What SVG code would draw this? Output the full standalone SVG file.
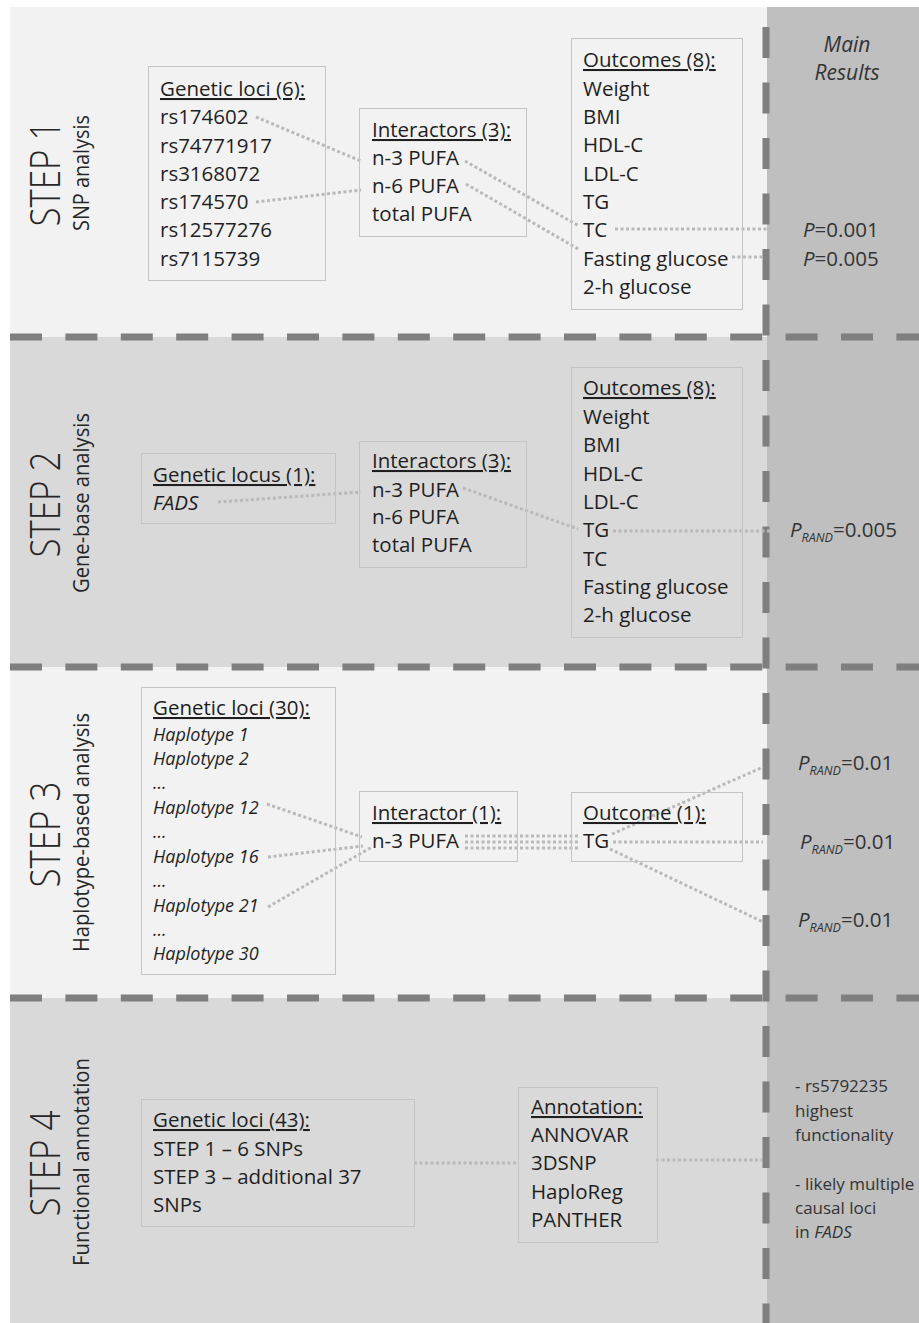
<svg xmlns="http://www.w3.org/2000/svg" width="919" height="1323" viewBox="0 0 919 1323">
<style>
.t{font-family:'Open Sans','Noto Sans','DejaVu Sans',sans-serif;font-size:20.5px;fill:#1f1f1f}
.h{text-decoration:underline}
.it{font-style:italic}
.box{fill:none;stroke:#c4c4c4;stroke-width:1}
.con{stroke:#b9b9b9;stroke-width:3;stroke-dasharray:3 2.5;fill:none}
.step{font-size:42px;font-weight:300;fill:#262626}
.sub{font-size:21px;fill:#262626}
.hap{font-size:18px;font-style:italic}
.res{font-size:17px;fill:#333}
.mr{font-size:21px;font-style:italic;fill:#333}
.pv{fill:#333}
.dash{stroke:#7f7f7f;stroke-width:7;fill:none}
</style>
<rect x="0" y="0" width="919" height="1323" fill="#ffffff"/>
<g id="panels">
<rect x="10" y="7" width="757" height="330" fill="#f2f2f2"/>
<rect x="10" y="337" width="757" height="330" fill="#d9d9d9"/>
<rect x="10" y="667" width="757" height="331" fill="#f2f2f2"/>
<rect x="10" y="998" width="757" height="325" fill="#d9d9d9"/>
<rect x="767" y="7" width="152" height="1316" fill="#bfbfbf"/>
</g>
<g id="dividers">
<line class="dash" x1="10" y1="337" x2="919" y2="337" stroke-dasharray="32 23.4"/>
<line class="dash" x1="10" y1="667" x2="919" y2="667" stroke-dasharray="32 23.4"/>
<line class="dash" x1="10" y1="998" x2="919" y2="998" stroke-dasharray="32 23.4"/>
<line class="dash" x1="766" y1="27" x2="766" y2="1323" stroke-dasharray="31 24.5"/>
</g>
<g id="step-labels" class="t">
<text class="t step" transform="translate(60,173.5) rotate(-90)" text-anchor="middle" textLength="106" lengthAdjust="spacingAndGlyphs">STEP 1</text>
<text class="t sub" transform="translate(89,173) rotate(-90)" text-anchor="middle" textLength="116" lengthAdjust="spacingAndGlyphs">SNP analysis</text>
<text class="t step" transform="translate(60,504.5) rotate(-90)" text-anchor="middle" textLength="106" lengthAdjust="spacingAndGlyphs">STEP 2</text>
<text class="t sub" transform="translate(89,503) rotate(-90)" text-anchor="middle" textLength="180" lengthAdjust="spacingAndGlyphs">Gene-base analysis</text>
<text class="t step" transform="translate(60,834.5) rotate(-90)" text-anchor="middle" textLength="106" lengthAdjust="spacingAndGlyphs">STEP 3</text>
<text class="t sub" transform="translate(89,832.5) rotate(-90)" text-anchor="middle" textLength="239" lengthAdjust="spacingAndGlyphs">Haplotype-based analysis</text>
<text class="t step" transform="translate(60,1163.5) rotate(-90)" text-anchor="middle" textLength="106" lengthAdjust="spacingAndGlyphs">STEP 4</text>
<text class="t sub" transform="translate(89,1162) rotate(-90)" text-anchor="middle" textLength="208" lengthAdjust="spacingAndGlyphs">Functional annotation</text>
</g>
<g id="connectors">
<line class="con" x1="256" y1="117" x2="361" y2="161"/>
<line class="con" x1="256" y1="202" x2="361" y2="190"/>
<line class="con" x1="465" y1="161" x2="579" y2="226"/>
<line class="con" x1="466" y1="184" x2="580" y2="250"/>
<line class="con" x1="615" y1="229" x2="772" y2="229"/>
<line class="con" x1="732" y1="257" x2="763" y2="257"/>
<line class="con" x1="218" y1="502" x2="361" y2="492"/>
<line class="con" x1="463" y1="488" x2="578" y2="529"/>
<line class="con" x1="613" y1="531" x2="770" y2="531"/>
<line class="con" x1="267" y1="804" x2="362" y2="837"/>
<line class="con" x1="268" y1="857" x2="363" y2="846"/>
<line class="con" x1="268" y1="907" x2="372" y2="847"/>
<line class="con" x1="465" y1="836" x2="578" y2="836"/>
<line class="con" x1="465" y1="842" x2="578" y2="842"/>
<line class="con" x1="465" y1="848" x2="578" y2="848"/>
<line class="con" x1="612" y1="834" x2="763" y2="767"/>
<line class="con" x1="613" y1="842" x2="763" y2="842"/>
<line class="con" x1="610" y1="849" x2="763" y2="922"/>
<line class="con" x1="414" y1="1163" x2="518" y2="1163"/>
<line class="con" x1="656" y1="1160" x2="762" y2="1160"/>
</g>
<g id="s1-loci">
<rect class="box" x="148.5" y="66.5" width="177" height="214"/>
<text class="t h" x="160" y="96">Genetic loci (6):</text>
<text class="t" x="160" y="124">rs174602</text>
<text class="t" x="160" y="153">rs74771917</text>
<text class="t" x="160" y="181">rs3168072</text>
<text class="t" x="160" y="209">rs174570</text>
<text class="t" x="160" y="237">rs12577276</text>
<text class="t" x="160" y="266">rs7115739</text>
</g>
<g id="s1-interactors">
<rect class="box" x="359.5" y="108.5" width="167" height="128"/>
<text class="t h" x="372" y="137">Interactors (3):</text>
<text class="t" x="372" y="165">n-3 PUFA</text>
<text class="t" x="372" y="193">n-6 PUFA</text>
<text class="t" x="372" y="221">total PUFA</text>
</g>
<g id="s1-outcomes">
<rect class="box" x="571.5" y="38.5" width="171" height="271"/>
<text class="t h" x="583" y="67">Outcomes (8):</text>
<text class="t" x="583" y="96">Weight</text>
<text class="t" x="583" y="124">BMI</text>
<text class="t" x="583" y="152">HDL-C</text>
<text class="t" x="583" y="181">LDL-C</text>
<text class="t" x="583" y="209">TG</text>
<text class="t" x="583" y="237">TC</text>
<text class="t" x="583" y="266">Fasting glucose</text>
<text class="t" x="583" y="294">2-h glucose</text>
</g>
<g id="s1-results">
<text class="t mr" x="847" y="52" text-anchor="middle">Main</text>
<text class="t mr" x="847" y="80" text-anchor="middle">Results</text>
<text class="t pv" x="803" y="237"><tspan font-style="italic">P</tspan>=0.001</text>
<text class="t pv" x="803" y="266"><tspan font-style="italic">P</tspan>=0.005</text>
</g>
<g id="s2-locus">
<rect class="box" x="141.5" y="453.5" width="194" height="70"/>
<text class="t h" x="153" y="482">Genetic locus (1):</text>
<text class="t it" x="153" y="510">FADS</text>
</g>
<g id="s2-interactors">
<rect class="box" x="359.5" y="441.5" width="167" height="126"/>
<text class="t h" x="372" y="468">Interactors (3):</text>
<text class="t" x="372" y="497">n-3 PUFA</text>
<text class="t" x="372" y="524">n-6 PUFA</text>
<text class="t" x="372" y="552">total PUFA</text>
</g>
<g id="s2-outcomes">
<rect class="box" x="571.5" y="367.5" width="171" height="270"/>
<text class="t h" x="583" y="395">Outcomes (8):</text>
<text class="t" x="583" y="424">Weight</text>
<text class="t" x="583" y="452">BMI</text>
<text class="t" x="583" y="481">HDL-C</text>
<text class="t" x="583" y="509">LDL-C</text>
<text class="t" x="583" y="537">TG</text>
<text class="t" x="583" y="566">TC</text>
<text class="t" x="583" y="594">Fasting glucose</text>
<text class="t" x="583" y="622">2-h glucose</text>
</g>
<g id="s2-results">
<text class="t pv" x="790" y="537"><tspan font-style="italic">P</tspan><tspan font-style="italic" font-size="12.5" dy="5">RAND</tspan><tspan dy="-5">=0.005</tspan></text>
</g>
<g id="s3-loci">
<rect class="box" x="141.5" y="687.5" width="194" height="287"/>
<text class="t h" x="153" y="715">Genetic loci (30):</text>
<text class="t hap" x="153" y="741">Haplotype 1</text>
<text class="t hap" x="153" y="765">Haplotype 2</text>
<text class="t hap" x="153" y="789">...</text>
<text class="t hap" x="153" y="814">Haplotype 12</text>
<text class="t hap" x="153" y="838">...</text>
<text class="t hap" x="153" y="863">Haplotype 16</text>
<text class="t hap" x="153" y="887">...</text>
<text class="t hap" x="153" y="912">Haplotype 21</text>
<text class="t hap" x="153" y="936">...</text>
<text class="t hap" x="153" y="960">Haplotype 30</text>
</g>
<g id="s3-interactor">
<rect class="box" x="359.5" y="791.5" width="158" height="70"/>
<text class="t h" x="372" y="820">Interactor (1):</text>
<text class="t" x="372" y="848">n-3 PUFA</text>
</g>
<g id="s3-outcome">
<rect class="box" x="571.5" y="792.5" width="171" height="69"/>
<text class="t h" x="583" y="820">Outcome (1):</text>
<text class="t" x="583" y="848">TG</text>
</g>
<g id="s3-results">
<text class="t pv" x="798" y="770"><tspan font-style="italic">P</tspan><tspan font-style="italic" font-size="12.5" dy="5">RAND</tspan><tspan dy="-5">=0.01</tspan></text>
<text class="t pv" x="800" y="849"><tspan font-style="italic">P</tspan><tspan font-style="italic" font-size="12.5" dy="5">RAND</tspan><tspan dy="-5">=0.01</tspan></text>
<text class="t pv" x="798" y="927"><tspan font-style="italic">P</tspan><tspan font-style="italic" font-size="12.5" dy="5">RAND</tspan><tspan dy="-5">=0.01</tspan></text>
</g>
<g id="s4-loci">
<rect class="box" x="141.5" y="1099.5" width="273" height="127"/>
<text class="t h" x="153" y="1127">Genetic loci (43):</text>
<text class="t" x="153" y="1156">STEP 1 – 6 SNPs</text>
<text class="t" x="153" y="1184">STEP 3 – additional 37</text>
<text class="t" x="153" y="1212">SNPs</text>
</g>
<g id="s4-annotation">
<rect class="box" x="518.5" y="1087.5" width="139" height="155"/>
<text class="t h" x="531" y="1114">Annotation:</text>
<text class="t" x="531" y="1142">ANNOVAR</text>
<text class="t" x="531" y="1170">3DSNP</text>
<text class="t" x="531" y="1199">HaploReg</text>
<text class="t" x="531" y="1227">PANTHER</text>
</g>
<g id="s4-results">
<text class="t res" x="795" y="1092">- rs5792235</text>
<text class="t res" x="795" y="1117">highest</text>
<text class="t res" x="795" y="1141">functionality</text>
<text class="t res" x="795" y="1190">- likely multiple</text>
<text class="t res" x="795" y="1214">causal loci</text>
<text class="t res" x="795" y="1238">in <tspan font-style="italic">FADS</tspan></text>
</g>
</svg>
